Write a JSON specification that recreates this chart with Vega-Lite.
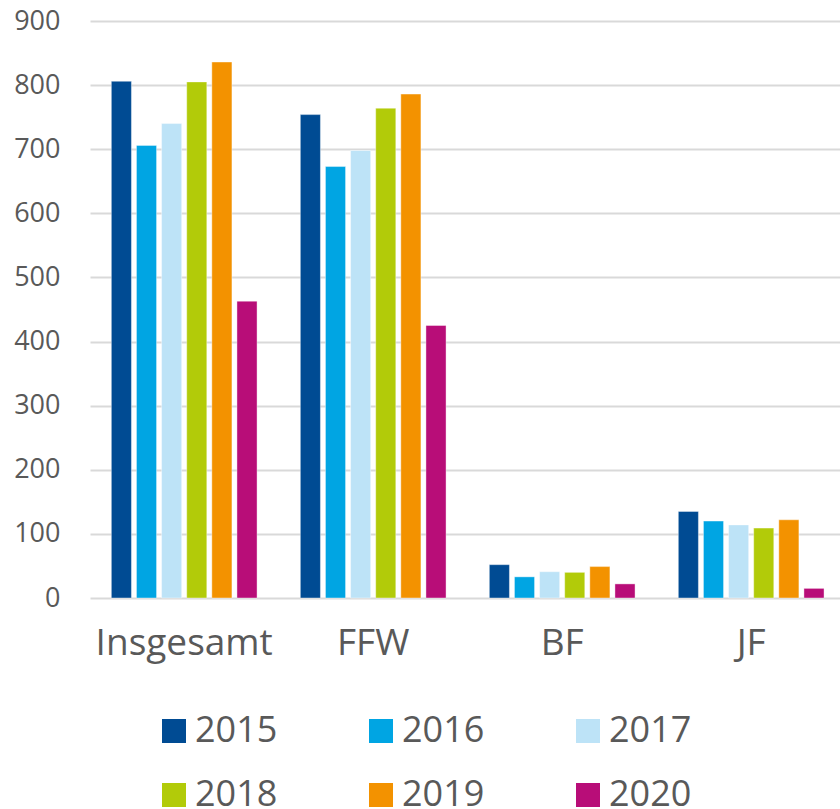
{
  "$schema": "https://vega.github.io/schema/vega-lite/v6.json",
  "autosize": {"type": "none"},
  "width": 750,
  "height": 577,
  "padding": {"left": 90, "top": 21, "right": 0, "bottom": 211},
  "background": "white",
  "config": {
    "view": {"stroke": null},
    "font": "Open Sans",
    "axis": {"labelColor": "#595959", "labelFont": "Open Sans"},
    "legend": {"labelColor": "#595959", "labelFont": "Open Sans"}
  },
  "data": {
    "values": [
      {"cat": "Insgesamt", "year": "2015", "value": 806},
      {"cat": "Insgesamt", "year": "2016", "value": 706},
      {"cat": "Insgesamt", "year": "2017", "value": 740},
      {"cat": "Insgesamt", "year": "2018", "value": 805},
      {"cat": "Insgesamt", "year": "2019", "value": 836},
      {"cat": "Insgesamt", "year": "2020", "value": 463},
      {"cat": "FFW", "year": "2015", "value": 754},
      {"cat": "FFW", "year": "2016", "value": 673},
      {"cat": "FFW", "year": "2017", "value": 698},
      {"cat": "FFW", "year": "2018", "value": 764},
      {"cat": "FFW", "year": "2019", "value": 786},
      {"cat": "FFW", "year": "2020", "value": 425},
      {"cat": "BF", "year": "2015", "value": 52},
      {"cat": "BF", "year": "2016", "value": 33},
      {"cat": "BF", "year": "2017", "value": 41},
      {"cat": "BF", "year": "2018", "value": 40},
      {"cat": "BF", "year": "2019", "value": 49},
      {"cat": "BF", "year": "2020", "value": 22},
      {"cat": "JF", "year": "2015", "value": 135},
      {"cat": "JF", "year": "2016", "value": 120},
      {"cat": "JF", "year": "2017", "value": 114},
      {"cat": "JF", "year": "2018", "value": 109},
      {"cat": "JF", "year": "2019", "value": 122},
      {"cat": "JF", "year": "2020", "value": 15}
    ]
  },
  "mark": {"type": "bar", "stroke": "white", "strokeOpacity": 0.4, "strokeWidth": 1},
  "encoding": {
    "x": {
      "field": "cat",
      "type": "nominal",
      "sort": ["Insgesamt", "FFW", "BF", "JF"],
      "scale": {"paddingInner": 0.229, "paddingOuter": 0.0987, "align": 0.572},
      "axis": {
        "title": null,
        "labelAngle": 0,
        "labelFontSize": 37,
        "labelPadding": 27,
        "ticks": false,
        "domain": false,
        "grid": false
      }
    },
    "xOffset": {
      "field": "year",
      "type": "nominal",
      "scale": {"paddingInner": 0.2, "paddingOuter": 0}
    },
    "y": {
      "field": "value",
      "type": "quantitative",
      "scale": {"domain": [0, 900], "nice": false},
      "axis": {
        "title": null,
        "values": [0, 100, 200, 300, 400, 500, 600, 700, 800, 900],
        "labelOverlap": false,
        "labelFontSize": 27,
        "labelPadding": 30,
        "ticks": false,
        "domain": false,
        "gridColor": "#d9d9d9",
        "gridWidth": 2
      }
    },
    "color": {
      "field": "year",
      "type": "nominal",
      "scale": {
        "domain": ["2015", "2016", "2017", "2018", "2019", "2020"],
        "range": ["#004b93", "#00a5e3", "#bde3f7", "#b2cb09", "#f39200", "#b80d78"]
      },
      "legend": {
        "title": null,
        "orient": "none",
        "legendX": 66,
        "legendY": 692,
        "direction": "horizontal",
        "columns": 3,
        "symbolType": "square",
        "symbolSize": 576,
        "symbolStrokeWidth": 0,
        "labelFontSize": 36,
        "labelOffset": 3,
        "columnPadding": 85,
        "rowPadding": 28,
        "padding": 0
      }
    }
  }
}
